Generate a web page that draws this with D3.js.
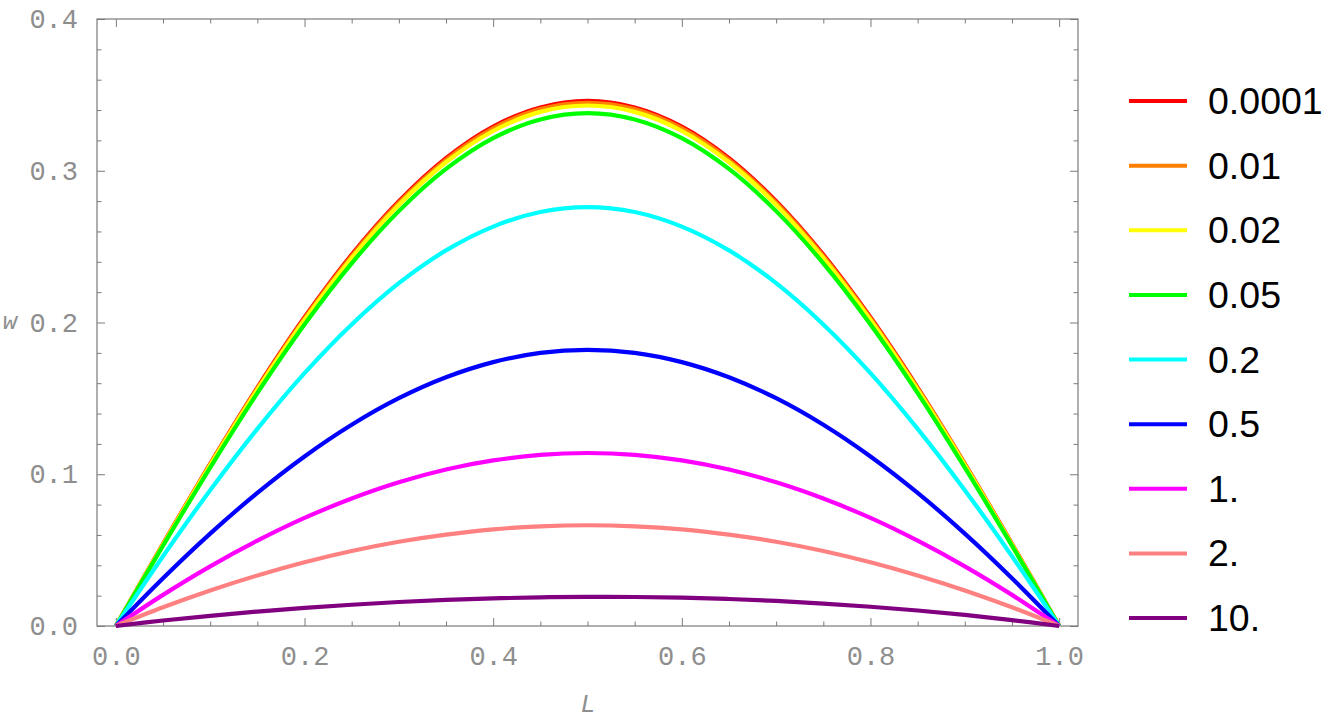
<!DOCTYPE html>
<html>
<head>
<meta charset="utf-8">
<script src="https://cdn.jsdelivr.net/npm/d3@7"></script>
<style>
  html, body { margin: 0; padding: 0; background: #fff; }
  svg { display: block; }
</style>
</head>
<body>
<svg id="chart" width="1344" height="728"></svg>
<script>
// ---- data ----
const positions = [0, 0.05, 0.1, 0.15, 0.2, 0.25, 0.3, 0.35, 0.4, 0.45, 0.5, 0.55, 0.6, 0.65, 0.7, 0.75, 0.8, 0.85, 0.9, 0.95, 1];
const seriesLabels = ["0.0001", "0.01", "0.02", "0.05", "0.2", "0.5", "1.", "2.", "10."];
const seriesColors = ["#ff0000", "#ff8000", "#ffff00", "#00ff00", "#00ffff", "#0000ff", "#ff00ff", "#ff8080", "#800080"];
const w_0_0001 = [0, 0.0541, 0.1069, 0.1571, 0.2034, 0.2447, 0.2799, 0.3083, 0.3291, 0.3417, 0.3460, 0.3417, 0.3291, 0.3083, 0.2799, 0.2447, 0.2034, 0.1571, 0.1069, 0.0541, 0];
const w_0_01   = [0, 0.0539, 0.1065, 0.1565, 0.2027, 0.2438, 0.2789, 0.3072, 0.3279, 0.3406, 0.3448, 0.3406, 0.3279, 0.3072, 0.2789, 0.2438, 0.2027, 0.1565, 0.1065, 0.0539, 0];
const w_0_02   = [0, 0.0536, 0.1060, 0.1557, 0.2016, 0.2425, 0.2775, 0.3056, 0.3262, 0.3388, 0.3430, 0.3388, 0.3262, 0.3056, 0.2775, 0.2425, 0.2016, 0.1557, 0.1060, 0.0536, 0];
const w_0_05   = [0, 0.0529, 0.1044, 0.1535, 0.1987, 0.2390, 0.2734, 0.3012, 0.3215, 0.3338, 0.3380, 0.3338, 0.3215, 0.3012, 0.2734, 0.2390, 0.1987, 0.1535, 0.1044, 0.0529, 0];
const w_0_2    = [0, 0.0460, 0.0895, 0.1299, 0.1666, 0.1987, 0.2259, 0.2475, 0.2632, 0.2728, 0.2760, 0.2728, 0.2632, 0.2475, 0.2259, 0.1987, 0.1666, 0.1299, 0.0895, 0.0460, 0];
const w_0_5    = [0, 0.0315, 0.0609, 0.0877, 0.1117, 0.1326, 0.1501, 0.1639, 0.1739, 0.1800, 0.1820, 0.1800, 0.1739, 0.1639, 0.1501, 0.1326, 0.1117, 0.0877, 0.0609, 0.0315, 0];
const w_1      = [0, 0.0205, 0.0393, 0.0562, 0.0712, 0.0840, 0.0947, 0.1031, 0.1091, 0.1128, 0.1140, 0.1128, 0.1091, 0.1031, 0.0947, 0.0840, 0.0712, 0.0562, 0.0393, 0.0205, 0];
const w_2      = [0, 0.0123, 0.0234, 0.0333, 0.0420, 0.0494, 0.0555, 0.0602, 0.0637, 0.0657, 0.0664, 0.0657, 0.0637, 0.0602, 0.0555, 0.0494, 0.0420, 0.0333, 0.0234, 0.0123, 0];
const w_10     = [0, 0.0036, 0.0067, 0.0095, 0.0119, 0.0140, 0.0158, 0.0172, 0.0182, 0.0189, 0.0192, 0.0191, 0.0187, 0.0178, 0.0165, 0.0148, 0.0127, 0.0102, 0.0073, 0.0039, 0];
const seriesValues = [w_0_0001, w_0_01, w_0_02, w_0_05, w_0_2, w_0_5, w_1, w_2, w_10];
const xMajorTicks = [0, 0.2, 0.4, 0.6, 0.8, 1.0];
const xMinorTicks = [0.05, 0.1, 0.15, 0.25, 0.3, 0.35, 0.45, 0.5, 0.55, 0.65, 0.7, 0.75, 0.85, 0.9, 0.95];
const yMajorTicks = [0, 0.1, 0.2, 0.3, 0.4];
const yMinorTicks = [0.02, 0.04, 0.06, 0.08, 0.12, 0.14, 0.16, 0.18, 0.22, 0.24, 0.26, 0.28, 0.32, 0.34, 0.36, 0.38];
const xAxisLabel = "L";
const yAxisLabel = "w";

// ---- layout ----
const frame = { left: 97, right: 1078, top: 19, bottom: 626 };
const svg = d3.select("#chart");
const x = d3.scaleLinear().domain([-0.02, 1.02]).range([frame.left, frame.right]);
const y = d3.scaleLinear().domain([0, 0.4]).range([frame.bottom, frame.top]);

const axisColor = "#7a7a7a";
const labelColor = "#8e8e8e";
const tickFont = "'Liberation Mono', 'DejaVu Sans Mono', monospace";

function styleAxis(g) {
  g.select(".domain").remove();
  g.selectAll(".tick line").attr("stroke", axisColor).attr("stroke-width", 1);
  g.selectAll(".tick text").attr("fill", labelColor)
    .style("font-family", tickFont).style("font-size", "27px");
}

// bottom axis (labels + inward ticks)
const fmt = d3.format(".1f");
svg.append("g").attr("transform", `translate(0,${frame.bottom})`)
  .call(d3.axisBottom(x).tickValues(xMajorTicks).tickFormat(fmt).tickSize(-8).tickPadding(20))
  .call(styleAxis);
svg.append("g").attr("transform", `translate(0,${frame.bottom})`)
  .call(d3.axisBottom(x).tickValues(xMinorTicks).tickFormat("").tickSize(-4.5))
  .call(styleAxis);
// top axis
svg.append("g").attr("transform", `translate(0,${frame.top})`)
  .call(d3.axisTop(x).tickValues(xMajorTicks).tickFormat("").tickSize(-8))
  .call(styleAxis);
svg.append("g").attr("transform", `translate(0,${frame.top})`)
  .call(d3.axisTop(x).tickValues(xMinorTicks).tickFormat("").tickSize(-4.5))
  .call(styleAxis);
// left axis
svg.append("g").attr("transform", `translate(${frame.left},0)`)
  .call(d3.axisLeft(y).tickValues(yMajorTicks).tickFormat(fmt).tickSize(-8).tickPadding(19))
  .call(styleAxis);
svg.append("g").attr("transform", `translate(${frame.left},0)`)
  .call(d3.axisLeft(y).tickValues(yMinorTicks).tickFormat("").tickSize(-4.5))
  .call(styleAxis);
// right axis
svg.append("g").attr("transform", `translate(${frame.right},0)`)
  .call(d3.axisRight(y).tickValues(yMajorTicks).tickFormat("").tickSize(-8))
  .call(styleAxis);
svg.append("g").attr("transform", `translate(${frame.right},0)`)
  .call(d3.axisRight(y).tickValues(yMinorTicks).tickFormat("").tickSize(-4.5))
  .call(styleAxis);

// frame
svg.append("rect")
  .attr("x", frame.left).attr("y", frame.top)
  .attr("width", frame.right - frame.left).attr("height", frame.bottom - frame.top)
  .attr("fill", "none").attr("stroke", axisColor).attr("stroke-width", 1.2);

// curves
const line = d3.line()
  .x((d, i) => x(positions[i]))
  .y(d => y(d))
  .curve(d3.curveCatmullRom.alpha(0.5));

const plot = svg.append("g");
seriesValues.forEach((vals, k) => {
  plot.append("path")
    .attr("d", line(vals))
    .attr("fill", "none")
    .attr("stroke", seriesColors[k])
    .attr("stroke-width", 4.2)
    .attr("stroke-linejoin", "round");
});

// axis labels
svg.append("text").attr("x", 588).attr("y", 712)
  .attr("text-anchor", "middle").attr("fill", labelColor)
  .style("font-family", tickFont).style("font-style", "italic").style("font-size", "25px")
  .text(xAxisLabel);
svg.append("text").attr("x", 10).attr("y", 329)
  .attr("text-anchor", "middle").attr("fill", labelColor)
  .style("font-family", tickFont).style("font-style", "italic").style("font-size", "24px")
  .text(yAxisLabel);

// legend
const legendY = d3.scalePoint().domain(seriesLabels).range([101, 618]);
const legend = svg.append("g");
seriesLabels.forEach((lab, k) => {
  const yy = legendY(lab);
  legend.append("line")
    .attr("x1", 1129).attr("x2", 1187).attr("y1", yy).attr("y2", yy)
    .attr("stroke", seriesColors[k]).attr("stroke-width", 4);
  legend.append("text")
    .attr("x", 1208).attr("y", yy + 13)
    .attr("fill", "#000")
    .style("font-family", "'Liberation Sans', Arial, sans-serif")
    .style("font-size", "37.5px")
    .text(lab);
});
</script>
</body>
</html>
